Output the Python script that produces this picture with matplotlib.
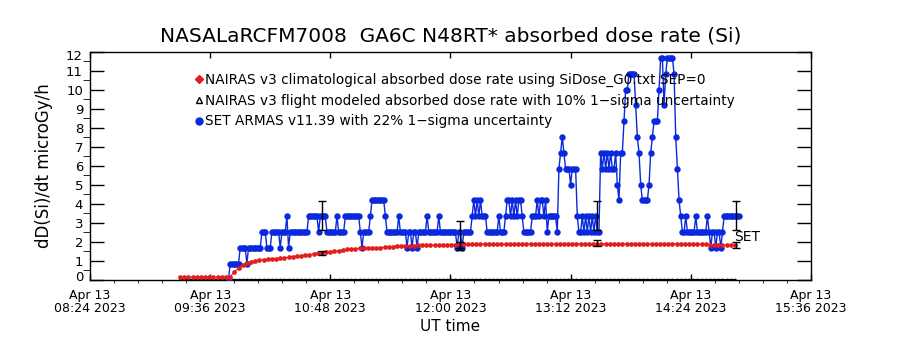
import numpy as np
import pandas as pd
import matplotlib
matplotlib.use('Agg')
import matplotlib.pyplot as plt
import matplotlib.dates as mdates
import matplotlib.ticker as mticker
from matplotlib.lines import Line2D
from matplotlib.transforms import ScaledTranslation

# NAIRAS climatological dose rate (red), 2.5 min cadence from 09:18 UT
red_start = '2023-04-13 09:18'
red_vals = [0.12, 0.12, 0.12, 0.12, 0.12, 0.12, 0.12, 0.12, 0.12, 0.12, 0.12, 0.12,
            0.15, 0.40, 0.60, 0.76, 0.87, 0.94, 0.99, 1.03, 1.05, 1.07, 1.08, 1.10,
            1.12, 1.14, 1.17, 1.20, 1.23, 1.26, 1.29, 1.31, 1.34, 1.37, 1.40, 1.43,
            1.46, 1.49, 1.52, 1.55, 1.58, 1.61, 1.63, 1.64, 1.65, 1.65, 1.66, 1.67,
            1.68, 1.70, 1.71, 1.73, 1.75, 1.76, 1.77, 1.78, 1.79, 1.80, 1.80, 1.81,
            1.81, 1.82, 1.82, 1.83, 1.83, 1.84,
            1.84, 1.85, 1.85, 1.85, 1.86, 1.86, 1.86, 1.86, 1.87, 1.87, 1.87, 1.87,
            1.88, 1.88, 1.88, 1.88, 1.88, 1.88, 1.88, 1.88, 1.88, 1.88, 1.88, 1.88,
            1.88, 1.88, 1.88, 1.88, 1.88, 1.88, 1.88, 1.88, 1.88, 1.88, 1.88, 1.88,
            1.88, 1.88, 1.88, 1.88, 1.88, 1.88, 1.88, 1.88, 1.88, 1.88, 1.88, 1.88,
            1.88, 1.88, 1.88, 1.88, 1.88, 1.88, 1.88, 1.88, 1.88, 1.88,
            1.87, 1.86, 1.85, 1.83, 1.82, 1.81, 1.80, 1.80, 1.80, 1.80]

# NAIRAS flight modeled dose rate (black), no values -> 0
black_vals = [0.0] * len(red_vals)

# SET ARMAS v11.39 measurements (blue), 1 min cadence from 09:47 UT
blue_start = '2023-04-13 09:47'
blue_vals = [
    0.0, 0.83, 0.83, 0.83, 0.83, 0.83, 0.83, 1.67, 1.67, 1.67, 1.67, 0.83, 1.67, 1.67, 1.67, 1.67, 1.67, 1.67, 1.67, 1.67,
    2.5, 2.5, 2.5, 1.67, 1.67, 1.67, 2.5, 2.5, 2.5, 2.5, 2.5, 1.67, 2.5, 2.5, 2.5, 3.33, 1.67, 2.5, 2.5, 2.5,
    2.5, 2.5, 2.5, 2.5, 2.5, 2.5, 2.5, 2.5, 3.33, 3.33, 3.33, 3.33, 3.33, 3.33, 2.5, 3.33, 3.33, 3.33, 3.33, 2.5,
    2.5, 2.5, 2.5, 2.5, 2.5, 3.33, 2.5, 2.5, 2.5, 2.5, 3.33, 3.33, 3.33, 3.33, 3.33, 3.33, 3.33, 3.33, 3.33, 2.5,
    1.67, 2.5, 2.5, 2.5, 2.5, 3.33, 4.17, 4.17, 4.17, 4.17, 4.17, 4.17, 4.17, 4.17, 3.33, 2.5, 2.5, 2.5, 2.5, 2.5,
    2.5, 2.5, 3.33, 2.5, 2.5, 2.5, 2.5, 1.67, 2.5, 2.5, 1.67, 2.5, 2.5, 1.67, 2.5, 2.5, 2.5, 2.5, 2.5, 3.33,
    2.5, 2.5, 2.5, 2.5, 2.5, 2.5, 3.33, 2.5, 2.5, 2.5, 2.5, 2.5, 2.5, 2.5, 2.5, 2.5, 2.5, 1.67, 2.5, 2.5,
    1.67, 2.5, 2.5, 2.5, 2.5, 2.5, 3.33, 4.17, 3.33, 4.17, 3.33, 4.17, 3.33, 3.33, 3.33, 2.5, 2.5, 2.5, 2.5, 2.5,
    2.5, 2.5, 3.33, 2.5, 2.5, 2.5, 3.33, 4.17, 4.17, 3.33, 4.17, 3.33, 4.17, 3.33, 4.17, 4.17, 3.33, 2.5, 2.5, 2.5,
    2.5, 2.5, 3.33, 3.33, 3.33, 4.17, 3.33, 4.17, 4.17, 3.33, 4.17, 2.5, 3.33, 3.33, 3.33, 3.33, 3.33, 2.5, 5.83, 6.67,
    7.5, 6.67, 5.83, 5.83, 5.83, 5.0, 5.83, 5.83, 5.83, 3.33, 2.5, 2.5, 3.33, 2.5, 3.33, 2.5, 3.33, 2.5, 3.33, 2.5,
    3.33, 2.5, 2.5, 6.67, 5.83, 6.67, 5.83, 6.67, 5.83, 6.67, 5.83, 5.83, 6.67, 5.0, 4.17, 6.67, 6.67, 8.33, 10.0, 10.0,
    10.83, 10.83, 10.83, 10.83, 9.17, 7.5, 6.67, 5.0, 4.17, 4.17, 4.17, 4.17, 5.0, 6.67, 7.5, 8.33, 8.33, 8.33, 10.0, 11.67,
    11.67, 9.17, 10.83, 11.67, 11.67, 11.67, 11.67, 10.83, 7.5, 5.83, 4.17, 3.33, 2.5, 2.5, 3.33, 2.5, 2.5, 2.5, 2.5, 2.5,
    3.33, 2.5, 2.5, 2.5, 2.5, 2.5, 2.5, 3.33, 2.5, 1.67, 2.5, 2.5, 1.67, 2.5, 2.5, 1.67, 2.5, 3.33, 3.33, 3.33,
    3.33, 3.33, 3.33, 3.33, 3.33, 3.33, 3.33]

# 1-sigma error bars (low / high ends)
err_times = ['2023-04-13 10:43', '2023-04-13 12:06', '2023-04-13 13:28', '2023-04-13 14:51']
blue_err_lo = [2.62, 1.56, 2.62, 2.62]
blue_err_hi = [4.12, 3.08, 4.12, 4.12]
red_err_lo = [1.30, 1.65, 1.74, 1.67]
red_err_hi = [1.52, 1.98, 2.09, 2.00]

x_start, x_end = '2023-04-13 08:24', '2023-04-13 15:36'
yticks = list(range(0, 13))

red_t = pd.date_range(red_start, periods=len(red_vals), freq='150s')
blue_t = pd.date_range(blue_start, periods=len(blue_vals), freq='60s')
err_t = pd.to_datetime(err_times)

blue_c = '#0a28dc'
red_c = '#e51c1c'

fig = plt.figure(figsize=(9, 3.5), dpi=100)
ax = fig.add_axes([0.1, 0.2014, 0.801, 0.6514])

ax.plot(red_t, black_vals, color='black', lw=1.5, marker='^', ms=2.2, zorder=2)
ax.plot(blue_t, blue_vals, color=blue_c, lw=1, marker='o', ms=4.6, mew=0, zorder=3)
ax.plot(red_t, red_vals, color=red_c, lw=0.8, marker='o', ms=3.4, mew=0, zorder=4)

for lo, hi in [(blue_err_lo, blue_err_hi), (red_err_lo, red_err_hi)]:
    lo, hi = np.array(lo), np.array(hi)
    ax.errorbar(err_t, (lo + hi) / 2, yerr=(hi - lo) / 2, fmt='none',
                ecolor='black', elinewidth=1, capsize=3, capthick=1, zorder=5)

ax.text(pd.Timestamp('2023-04-13 14:50'), 2.25, 'SET', fontsize=10, va='center', ha='left')

ax.set_xlim(pd.Timestamp(x_start), pd.Timestamp(x_end))
ax.set_ylim(0, 12)
ax.xaxis.set_major_locator(mticker.FixedLocator(
    mdates.date2num(pd.date_range(x_start, x_end, freq='72min'))))
ax.xaxis.set_minor_locator(mticker.FixedLocator(
    mdates.date2num(pd.date_range(x_start, x_end, freq='864s'))))
ax.xaxis.set_major_formatter(mdates.DateFormatter('%b %d\n%H:%M %Y'))
ax.set_yticks(yticks)
ax.yaxis.set_minor_locator(mticker.MultipleLocator(0.5))

ax.tick_params(direction='in', top=True, right=True, width=1)
ax.tick_params(axis='x', which='major', length=4.3, pad=7, labelsize=9)
ax.tick_params(axis='x', which='minor', length=2.2)
ax.tick_params(axis='y', which='major', length=10, pad=5, labelsize=9.5)
ax.tick_params(axis='y', which='minor', length=5)
for lab in ax.get_xticklabels():
    lab.set_linespacing(1.0)

# pull the end labels slightly inside the axis like the original
shift = {0: 2.2, 12: -2.2}
for tick, val in zip(ax.yaxis.get_major_ticks(), yticks):
    if val in shift:
        tick.label1.set_transform(tick.label1.get_transform() +
                                  ScaledTranslation(0, shift[val] / 72, fig.dpi_scale_trans))

for s in ax.spines.values():
    s.set_linewidth(1)

ax.set_title('NASALaRCFM7008  GA6C N48RT* absorbed dose rate (Si)', fontsize=14.5, pad=7)
ax.set_ylabel('dD(Si)/dt microGy/h', fontsize=12)
ax.yaxis.set_label_coords(-0.052, 0.5)
ax.set_xlabel('UT time', fontsize=11, labelpad=3)

handles = [
    Line2D([], [], ls='none', marker='D', ms=4, color=red_c, mec=red_c),
    Line2D([], [], ls='none', marker='^', ms=4.5, mfc='white', mec='black'),
    Line2D([], [], ls='none', marker='o', ms=5, color=blue_c),
]
labels = [
    'NAIRAS v3 climatological absorbed dose rate using SiDose_G0.txt SEP=0',
    'NAIRAS v3 flight modeled absorbed dose rate with 10% 1\u2212sigma uncertainty',
    'SET ARMAS v11.39 with 22% 1\u2212sigma uncertainty',
]
ax.legend(handles, labels, loc='upper left', bbox_to_anchor=(0.145, 0.905), frameon=False,
          fontsize=9.8, handlelength=0.6, handletextpad=0.15, labelspacing=0.48,
          borderpad=0, borderaxespad=0)

fig.savefig('out.png', dpi=100)
